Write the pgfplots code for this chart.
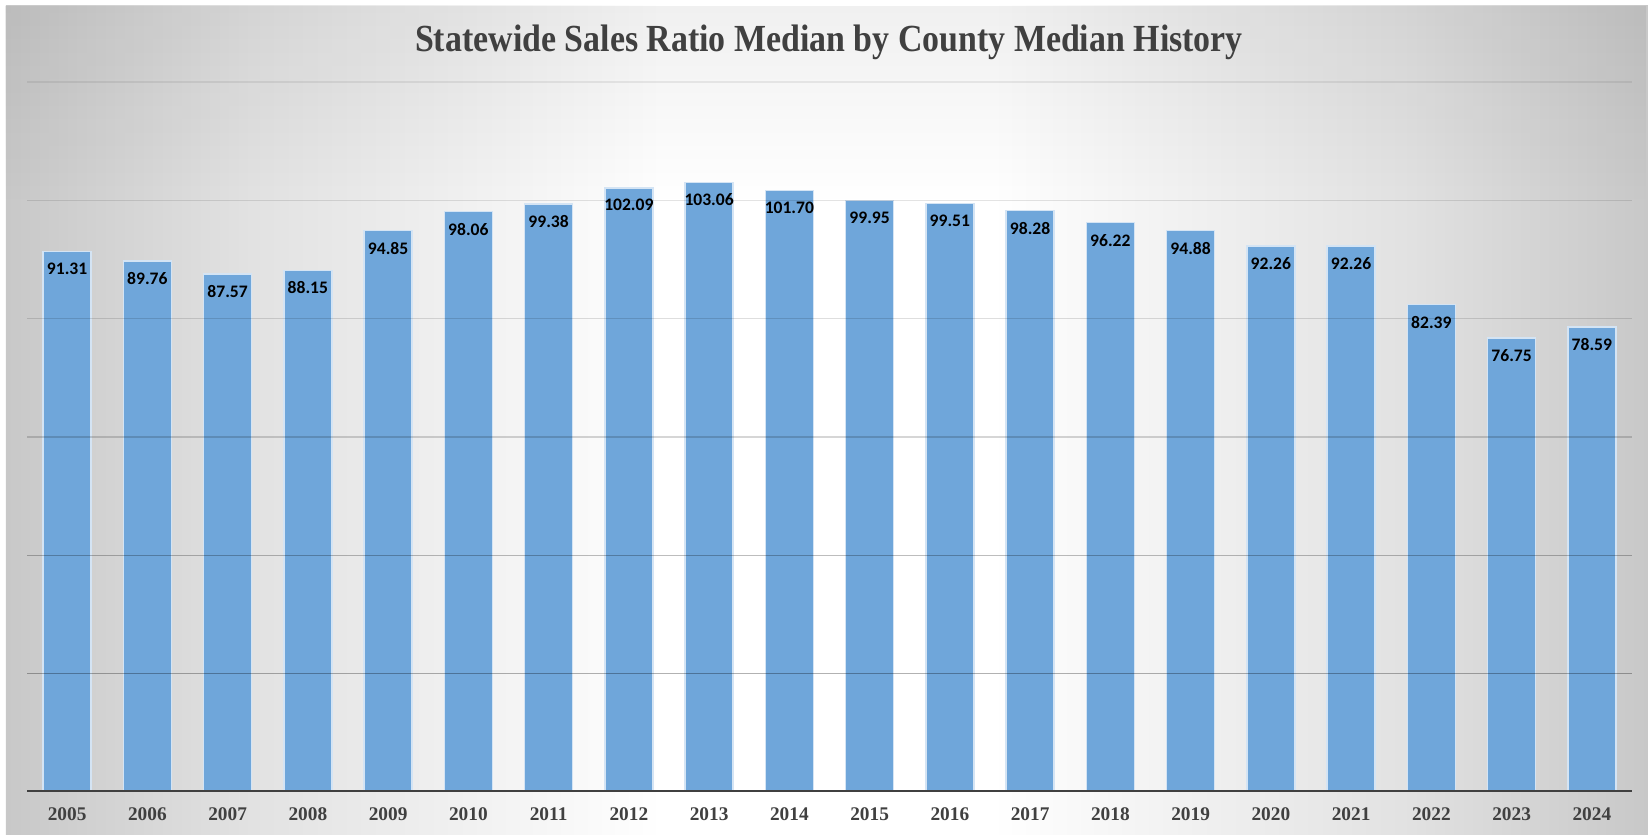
\documentclass[border=0pt]{standalone}
\usepackage{fontspec}
\setmainfont{Liberation Serif}
\newfontfamily\calibri{Carlito}
\usepackage{graphicx}
\usepackage{pgfplots}
\pgfplotsset{compat=1.18}
\usetikzlibrary{fadings}
\definecolor{barblue}{HTML}{6FA6DA}
\definecolor{textgray}{HTML}{404040}
\definecolor{bgA}{HTML}{C8C8C8}
\definecolor{bgB}{HTML}{E2E2E2}
\definecolor{bgC}{HTML}{F3F3F3}
% tikz maps the path onto 25bp..75bp of the shading
\pgfdeclarehorizontalshading{bgh}{100bp}{color(0bp)=(bgA); color(25bp)=(bgA); color(32.5bp)=(bgB); color(40bp)=(bgC); color(45bp)=(white); color(55bp)=(white); color(60bp)=(bgC); color(67.5bp)=(bgB); color(75bp)=(bgA); color(100bp)=(bgA)}

\pgfplotstableread{
x  val
0  91.31
1  89.76
2  87.57
3  88.15
4  94.85
5  98.06
6  99.38
7  102.09
8  103.06
9  101.70
10 99.95
11 99.51
12 98.28
13 96.22
14 94.88
15 92.26
16 92.26
17 82.39
18 76.75
19 78.59
}\ratios

\begin{document}
\begin{tikzpicture}
% page frame and gradient background
\fill[white] (0,0) rectangle (16.48,8.35);
\shade[shading=bgh] (0.06,0) rectangle (16.48,8.29);
\fill[black, opacity=0.06, path fading=south] (0.06,6.3) rectangle (16.48,8.29);
\node[anchor=base, text=textgray, font=\fontsize{10.9}{12}\selectfont\bfseries]
  at (8.29,7.83) {\scalebox{0.885}[1]{Statewide Sales Ratio Median by County Median History}};

\begin{axis}[
    at={(0.27cm,0.43cm)}, anchor=south west,
    scale only axis, width=16.05cm, height=7.10cm,
    ybar, bar width=4.8mm,
    xmin=-0.5, xmax=19.5, ymin=0, ymax=120,
    ytick=\empty,
    xtick=data,
    xticklabels={2005,2006,2007,2008,2009,2010,2011,2012,2013,2014,2015,2016,2017,2018,2019,2020,2021,2022,2023,2024},
    major tick length=0pt,
    axis line style={draw=none},
    x tick label style={font=\fontsize{5.5}{6}\selectfont\bfseries, text=textgray, anchor=base, yshift=-2.9mm},
    nodes near coords,
    nodes near coords align={below},
    every node near coord/.append style={font=\calibri\bfseries\fontsize{5}{6}\selectfont, text=black, yshift=0.1mm},
    /pgf/number format/.cd, fixed, fixed zerofill, precision=2, assume math mode=true,
]
\addplot[fill=barblue, draw=white!70!barblue, line width=0.4pt] table[x=x, y=val] {\ratios};
% gridlines sit over the bars, faint at the top, darker lower down
\draw[black, opacity=0.30, line width=0.45pt] (axis cs:-0.5,20) -- (axis cs:19.5,20);
\draw[black, opacity=0.26, line width=0.45pt] (axis cs:-0.5,40) -- (axis cs:19.5,40);
\draw[black, opacity=0.16, line width=0.45pt] (axis cs:-0.5,60) -- (axis cs:19.5,60);
\draw[black, opacity=0.13, line width=0.45pt] (axis cs:-0.5,80) -- (axis cs:19.5,80);
\draw[black, opacity=0.11, line width=0.45pt] (axis cs:-0.5,100) -- (axis cs:19.5,100);
\draw[black, opacity=0.07, line width=0.45pt] (axis cs:-0.5,120) -- (axis cs:19.5,120);
\draw[textgray, line width=0.9pt] (axis cs:-0.5,0) -- (axis cs:19.5,0);
\end{axis}
\end{tikzpicture}
\end{document}
